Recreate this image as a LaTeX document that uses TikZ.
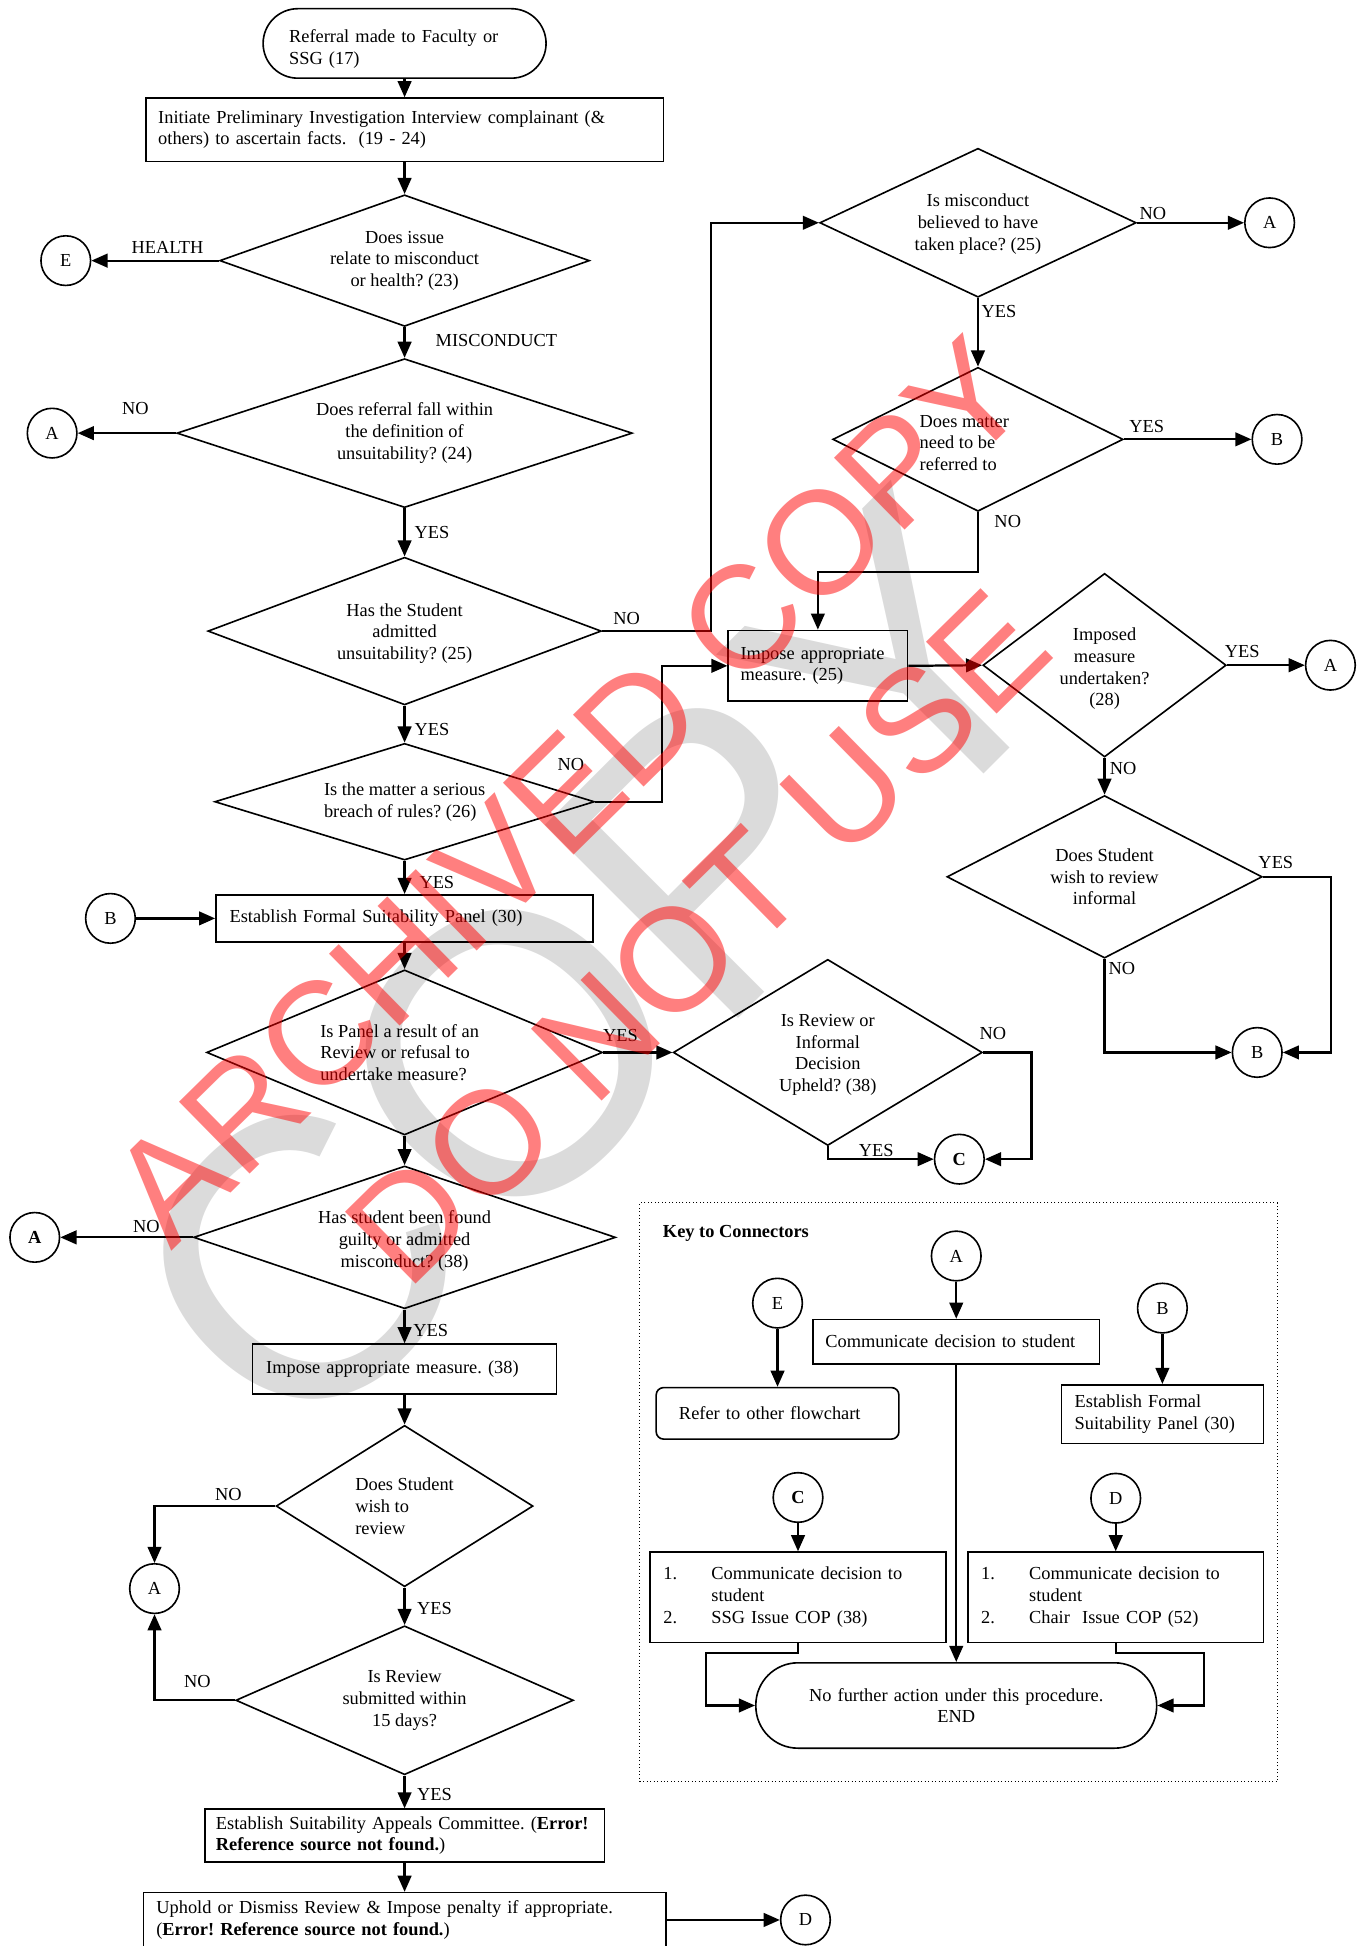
\documentclass[tikz,border=0pt]{standalone}
\usepackage{fontspec}
\setmainfont{Liberation Serif}
\newfontfamily\wmfont{Liberation Sans}
\usetikzlibrary{shapes.geometric,arrows.meta}
\frenchspacing

\begin{document}
\begin{tikzpicture}[x=1pt,y=-1pt,font=\fontsize{14.8}{17.5}\selectfont,
    box/.style={draw,line width=1.3pt,align=left,inner xsep=10pt,inner ysep=0pt},
    term/.style={box,rounded corners=28pt},
    dec/.style={draw,diamond,line width=1.3pt,inner sep=0pt},
    conn/.style={draw,circle,line width=1.3pt,minimum size=40pt,inner sep=0pt},
    flow/.style={line width=1.8pt,-{Triangle[length=13pt,width=11pt]}},
    lbl/.style={inner sep=0pt},
    wmred/.style={text=red,text opacity=0.5,rotate=44.5,inner sep=0pt,font=\wmfont\fontsize{118}{118}\selectfont},
    wmgrey/.style={text=black!14,rotate=45,inner sep=0pt,font=\wmfont\fontsize{320}{320}\selectfont}]
    \useasboundingbox (0,0) rectangle (1101,1568);
    \clip (0,0) rectangle (1101,1568);
    \node[wmgrey] (wg) at (480,780) {COPY};

    \node[term,inner xsep=21pt,text width=186pt,minimum height=56pt] (s) at (326,35) {\rule{0pt}{19pt}Referral made to Faculty or\\SSG (17)};
    \node[box,text width=397pt,minimum height=51pt] (p1) at (326,104.5) {Initiate Preliminary Investigation Interview complainant (\&\\others) to ascertain facts.\ \ (19 - 24)};
    \node[dec,minimum width=298pt,minimum height=106pt,label={[align=center]center:Does issue\\relate to misconduct\\or health? (23)}] (d1) at (326,210) {};
    \node[dec,minimum width=367pt,minimum height=120pt,label={[align=center]center:Does referral fall within\\the definition of\\unsuitability? (24)}] (d2) at (326,349) {};
    \node[dec,minimum width=317pt,minimum height=119pt,label={[align=center,yshift=-2pt]center:Has the Student\\admitted\\unsuitability? (25)}] (d3) at (326,508.5) {};
    \node[dec,minimum width=306pt,minimum height=94pt,label={[align=left]center:Is the matter a serious\\breach of rules? (26)}] (d5) at (326,646) {};
    \node[box,inner xsep=11pt,text width=282pt,minimum height=38pt] (f1) at (326,740) {Establish Formal Suitability Panel (30)};
    \node[dec,minimum width=319pt,minimum height=133pt,label={[align=left,xshift=-4pt]center:Is Panel a result of an\\Review or refusal to\\undertake measure?}] (d6) at (326,848) {};
    \node[dec,minimum width=340pt,minimum height=115pt,label={[align=center,yshift=-3pt]center:Has student been found\\guilty or admitted\\misconduct? (38)}] (d8) at (326,997) {};
    \node[box,inner xsep=11pt,text width=223pt,minimum height=40pt] (m2) at (326,1103) {Impose appropriate measure. (38)};
    \node[dec,minimum width=207pt,minimum height=130pt,label={[align=left]center:Does Student\\wish to\\review}] (d9) at (326,1213.5) {};
    \node[dec,minimum width=272pt,minimum height=120pt,label={[align=center]center:Is Review\\submitted within\\15 days?}] (d10) at (326,1370) {};
    \node[box,inner xsep=9pt,text width=304pt,minimum height=42.5pt] (sa) at (326,1479) {\mbox{Establish Suitability Appeals Committee. (\textbf{Error!}}\\\textbf{Reference source not found.})};
    \node[box,inner xsep=10.5pt,text width=400pt,minimum height=44pt] (u) at (326,1547) {Uphold or Dismiss Review \& Impose penalty if appropriate.\\(\textbf{Error! Reference source not found.})};

    \node[dec,minimum width=255pt,minimum height=120pt,label={[align=center,yshift=-1pt]center:Is misconduct\\believed to have\\taken place? (25)}] (d4) at (788,179.5) {};
    \node[dec,minimum width=234pt,minimum height=116pt,label={[align=left,xshift=-11pt,yshift=-3pt]center:Does matter\\need to be\\referred to}] (d11) at (788,354) {};
    \node[box,text width=124.5pt,minimum height=57pt] (m1) at (659,536.5) {Impose appropriate\\measure. (25)};
    \node[dec,minimum width=196pt,minimum height=148pt,label={[align=center,yshift=-3pt]center:Imposed\\measure\\undertaken?\\(28)}] (d12) at (890,536) {};
    \node[dec,minimum width=254pt,minimum height=131pt,label={[align=center]center:Does Student\\wish to review\\informal}] (d13) at (890,706.5) {};
    \node[dec,minimum width=249pt,minimum height=150pt,label={[align=center,yshift=-2pt]center:Is Review or\\Informal\\Decision\\Upheld? (38)}] (d7) at (667,848) {};

    \node[conn] (e1) at (53,210) {E};
    \node[conn] (a1) at (42,349) {A};
    \node[conn] (a2) at (1023,179.5) {A};
    \node[conn] (b1) at (1029,354) {B};
    \node[conn] (a3) at (1072,536) {A};
    \node[conn] (b2) at (89,740) {B};
    \node[conn] (b3) at (1013,848) {B};
    \node[conn] (c1) at (773,934) {\textbf{C}};
    \node[conn] (a4) at (28,997) {\textbf{A}};
    \node[conn] (a5) at (124.5,1280) {A};
    \node[conn] (dd) at (649,1547) {D};

    \node[lbl] (l1) at (135,199) {HEALTH};
    \node[lbl] (l2) at (400,274) {MISCONDUCT};
    \node[lbl] (l3) at (109,329) {NO};
    \node[lbl] (l4) at (348,429) {YES};
    \node[lbl] (l5) at (505,498) {NO};
    \node[lbl] (l6) at (348,588) {YES};
    \node[lbl] (l7) at (460,616) {NO};
    \node[lbl] (l8) at (352,711) {YES};
    \node[lbl] (l9) at (500,834) {YES};
    \node[lbl] (l10) at (800,833) {NO};
    \node[lbl] (l11) at (706,927) {YES};
    \node[lbl] (l12) at (118,988) {NO};
    \node[lbl] (l13) at (347,1072) {YES};
    \node[lbl] (l14) at (184,1204) {NO};
    \node[lbl] (l15) at (350,1296) {YES};
    \node[lbl] (l16) at (159,1355) {NO};
    \node[lbl] (l17) at (350,1446) {YES};
    \node[lbl] (l18) at (929,172) {NO};
    \node[lbl] (l19) at (805,251) {YES};
    \node[lbl] (l20) at (924,344) {YES};
    \node[lbl] (l21) at (812,420) {NO};
    \node[lbl] (l22) at (1001,525) {YES};
    \node[lbl] (l23) at (905,619) {NO};
    \node[lbl] (l24) at (1028,695) {YES};
    \node[lbl] (l25) at (904,780) {NO};

    \draw[flow] (s) -- (p1);
    \draw[flow] (p1) -- (d1);
    \draw[flow] (d1.west) -- (e1);
    \draw[flow] (d1) -- (d2);
    \draw[flow] (d2.west) -- (a1);
    \draw[flow] (d2) -- (d3);
    \draw[flow] (d3.east) -- ++(88,0) |- (d4.west);
    \draw[flow] (d3) -- (d5);
    \draw[flow] (d5.east) -- ++(54,0) |- (m1.west);
    \draw[flow] (d5) -- (f1);
    \draw[flow] (b2) -- (f1.west);
    \draw[flow] (f1) -- (d6);
    \draw[flow] (d6.east) -- (d7.west);
    \draw[flow] (d7.south) |- (c1.west);
    \draw[flow] (d7.east) -- ++(39,0) |- (c1.east);
    \draw[flow] (d6) -- (d8);
    \draw[flow] (d8.west) -- (a4);
    \draw[flow] (d8) -- (m2);
    \draw[flow] (m2) -- (d9);
    \draw[flow] (d9.west) -| (a5);
    \draw[flow] (d9) -- (d10);
    \draw[flow] (d10.west) -| (a5);
    \draw[flow] (d10) -- (sa);
    \draw[flow] (sa) -- (u);
    \draw[flow] (u.east) -- (dd);
    \draw[flow] (d4.east) -- (a2);
    \draw[flow] (d4) -- (d11);
    \draw[flow] (d11.east) -- (b1);
    \draw[flow] (d11.south) -- ++(0,48) -| (m1.north);
    \draw[flow] (m1.east) -- (d12.west);
    \draw[flow] (d12.east) -- (a3);
    \draw[flow] (d12) -- (d13);
    \draw[flow] (d13.east) -- ++(55,0) |- (b3.east);
    \draw[flow] (d13.south) |- (b3.west);

    \begin{scope}
    \node[draw,dotted,line width=0.8pt,minimum width=513.8pt,minimum height=466.5pt] (key) at (772.3,1202.5) {};
    \node[anchor=west,inner sep=0pt] (kt) at (534,994) {\textbf{Key to Connectors}};
    \node[conn] (ka) at (770.5,1012) {A};
    \node[box,text width=211pt,minimum height=35.6pt] (kcm) at (770.5,1081) {Communicate decision to student};
    \node[conn] (ke) at (626.5,1050) {E};
    \node[box,rounded corners=6pt,inner xsep=18.4pt,text width=158.8pt,minimum height=41.5pt] (kr) at (626.5,1138.8) {Refer to other flowchart};
    \node[conn] (kb) at (936.6,1054) {B};
    \node[box,inner xsep=10.7pt,text width=141.3pt,minimum height=47.4pt] (kf) at (936.6,1139.5) {Establish Formal\\Suitability Panel (30)};
    \node[conn] (kc) at (643,1206.6) {\textbf{C}};
    \node[box,inner xsep=10.7pt,text width=216.8pt,minimum height=72.8pt] (kcb) at (643,1287) {\makebox[38.6pt][l]{1.}Communicate decision to\\\hspace*{38.6pt}student\\\makebox[38.6pt][l]{2.}SSG Issue COP (38)};
    \node[conn] (kd) at (899,1207.2) {D};
    \node[box,inner xsep=10.7pt,text width=216.8pt,minimum height=72.8pt] (kdb) at (899,1287) {\makebox[38.6pt][l]{1.}Communicate decision to\\\hspace*{38.6pt}student\\\makebox[38.6pt][l]{2.}Chair\ \ Issue COP (52)};
    \node[term,rounded corners=34pt,align=center,text width=303pt,minimum height=68.8pt] (ken) at (770.5,1374.2) {No further action under this procedure.\\END};

    \draw[flow] (ka) -- (kcm);
    \draw[flow] (ke) -- (kr);
    \draw[flow] (kb) -- (kf);
    \draw[flow] (kc) -- (kcb);
    \draw[flow] (kd) -- (kdb);
    \draw[flow] (kcm) -- (ken);
    \draw[flow] (kcb.south) -- ++(0,8) -- ++(-74,0) |- (ken.west);
    \draw[flow] (kdb.south) -- ++(0,8) -- ++(71,0) |- (ken.east);
    \end{scope}

    \node[wmred] (w1) at (458,637) {ARCHIVED COPY};
    \node[wmred] (w2) at (562,755) {DO NOT USE};
\end{tikzpicture}
\end{document}
